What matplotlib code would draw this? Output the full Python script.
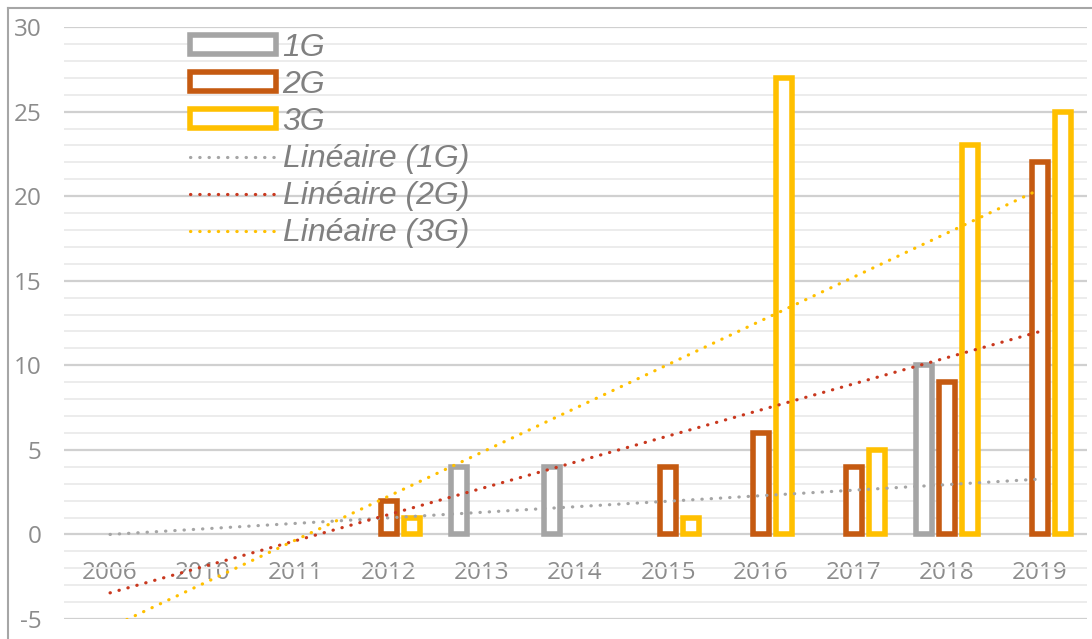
import numpy as np
import matplotlib.pyplot as plt
from matplotlib.lines import Line2D

plt.rcParams['axes.unicode_minus'] = False

# données
annees = ['2006', '2010', '2011', '2012', '2013', '2014', '2015', '2016', '2017', '2018', '2019']
g1 = [0, 0, 0, 0, 4, 4, 0, 0, 0, 10, 0]
g2 = [0, 0, 0, 2, 0, 0, 4, 6, 4, 9, 22]
g3 = [0, 0, 0, 1, 0, 0, 1, 27, 5, 23, 25]
noms = ['1G', '2G', '3G']

couleurs = ['#a5a5a5', '#c55a11', '#ffc000']
couleurs_tendance = ['#a5a5a5', '#c9381e', '#ffc000']
gris_texte = '#8c8c8c'

x = np.arange(len(annees))

fig = plt.figure(figsize=(10.92, 6.39), dpi=100)
ax = fig.add_axes([0.0582, 0.0313, 0.9368, 0.9264])

barres = []
tendances = []
for i, vals in enumerate([g1, g2, g3]):
    vals = np.array(vals, dtype=float)
    dx = (i - 1) * 0.247
    m = vals > 0
    b = ax.bar(x[m] + dx, vals[m], width=0.172, facecolor='white',
               edgecolor=couleurs[i], linewidth=4, zorder=2)
    barres.append(b)
    # courbe de tendance linéaire (comme Excel)
    pente, orig = np.polyfit(x + 1, vals, 1)
    l, = ax.plot(x, pente * (x + 1) + orig, color=couleurs_tendance[i], lw=2.3,
                 linestyle=(0, (0.1, 2.8)), dash_capstyle='round', zorder=3)
    tendances.append(l)

ax.set_xlim(-0.5, len(annees) - 0.5)
ax.set_ylim(-5, 30)
ax.set_yticks(np.arange(-5, 31, 5))
ax.set_yticks(np.arange(-5, 31, 1), minor=True)
ax.grid(which='major', axis='y', color='#d0d0d0', lw=1.6, zorder=0)
ax.grid(which='minor', axis='y', color='#ebebeb', lw=1.3, zorder=0)
ax.set_axisbelow(True)

for s in ax.spines.values():
    s.set_visible(False)
ax.spines['bottom'].set_position(('data', 0))

ax.set_xticks(x)
ax.set_xticklabels(annees)
ax.tick_params(axis='both', which='both', length=0)
ax.tick_params(axis='x', pad=19, labelsize=17.5, labelcolor=gris_texte)
ax.tick_params(axis='y', pad=16, labelsize=17.5, labelcolor=gris_texte)
for t in ax.get_xticklabels() + ax.get_yticklabels():
    t.set_fontfamily('Open Sans')

handles = barres + tendances
labels = noms + ['Linéaire (%s)' % n for n in noms]
leg = ax.legend(handles, labels, loc='upper left', bbox_to_anchor=(174 / 1092, 1 - 17 / 639),
                bbox_transform=fig.transFigure, frameon=False, borderpad=0,
                handlelength=2.7, handleheight=0.55, handletextpad=0.2, labelspacing=0.22,
                prop={'family': 'Liberation Sans', 'style': 'italic', 'size': 23})
for t in leg.get_texts():
    t.set_color('#808080')

# cadre extérieur (coupé à droite et en bas)
fig.add_artist(Line2D([8 / 1092, 1], [1 - 8 / 639, 1 - 8 / 639], color='#a6a6a6', lw=1.5))
fig.add_artist(Line2D([8 / 1092, 8 / 1092], [0, 1 - 8 / 639], color='#a6a6a6', lw=1.5))

fig.savefig('out.png', dpi=100)
